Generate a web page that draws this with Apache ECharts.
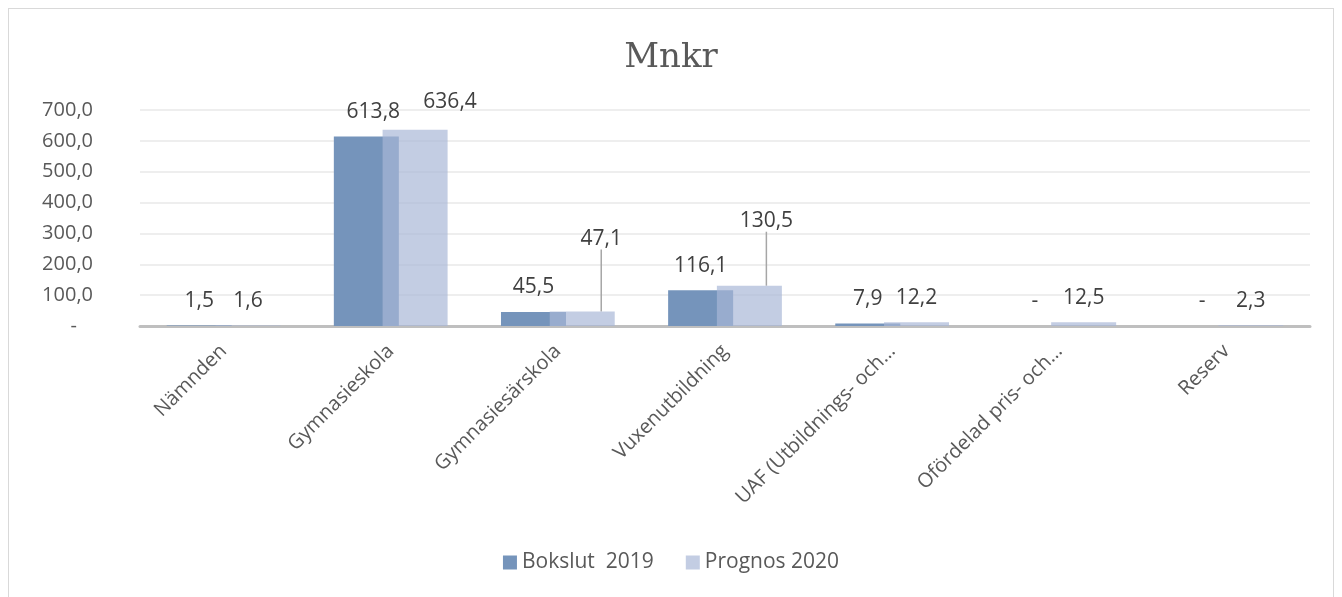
<!DOCTYPE html>
<html>
<head>
<meta charset="utf-8">
<script src="https://cdn.jsdelivr.net/npm/echarts@6/dist/echarts.min.js"></script>
<style>
  html, body { margin: 0; padding: 0; background: #fff; }
  #frame { position: absolute; left: 8px; top: 8px; width: 1324px; height: 620px; border: 1px solid #d9d9d9; }
  #main { position: absolute; left: 0; top: 0; width: 1342px; height: 597px; }
</style>
</head>
<body>
<div id="frame"></div>
<div id="main"></div>
<script>
// data
var categories = ['Nämnden', 'Gymnasieskola', 'Gymnasiesärskola', 'Vuxenutbildning',
    'UAF (Utbildnings- och…', 'Ofördelad pris- och…', 'Reserv'];
var bokslut2019 = [1.5, 613.8, 45.5, 116.1, 7.9, 0, 0];
var prognos2020 = [1.6, 636.4, 47.1, 130.5, 12.2, 12.5, 2.3];
var seriesNames = ['Bokslut  2019', 'Prognos 2020'];

var txtFont = 'Open Sans';

function fmt(v) {
    return v === 0 ? '-' : v.toFixed(1).replace('.', ',');
}

// a few labels are moved like in the original
var labelMoves = {
    '0-1': {dx: 7, dy: 0},
    '1-1': {dx: 35, dy: -3},
    '1-2': {dx: 19, dy: -48, line: true},
    '1-3': {dx: 17, dy: -40, line: true}
};

var dom = document.getElementById('main');
var myChart = echarts.init(dom);

function buildData(values, s) {
    return values.map(function (v, i) {
        var m = labelMoves[s + '-' + i];
        var item = {value: v};
        if (m && m.line) {
            item.labelLine = {show: true, lineStyle: {color: '#a6a6a6', width: 1.5}};
        }
        return item;
    });
}

var option = {
    title: {
        text: 'Mnkr',
        left: 'center',
        top: 36,
        textStyle: {
            fontFamily: 'DejaVu Serif',
            fontWeight: 'normal',
            fontSize: 34,
            color: '#595959'
        }
    },
    color: ['#7594bb', 'rgba(168,183,214,0.69)'],
    legend: {
        bottom: 19,
        left: 'center',
        itemWidth: 14,
        itemHeight: 14,
        itemGap: 32,
        icon: 'rect',
        textStyle: {fontSize: 21, color: '#595959', fontFamily: txtFont},
        data: seriesNames
    },
    grid: {
        left: 140,
        right: 32,
        top: 110,
        bottom: 271
    },
    xAxis: {
        type: 'category',
        data: categories,
        axisLine: {lineStyle: {color: '#bfbfbf', width: 3}},
        axisTick: {show: false},
        axisLabel: {
            rotate: 45,
            interval: 0,
            margin: 22,
            fontSize: 20,
            color: '#595959',
            fontFamily: txtFont
        }
    },
    yAxis: {
        type: 'value',
        min: 0,
        max: 700,
        interval: 100,
        axisLine: {show: false},
        axisTick: {show: false},
        splitLine: {lineStyle: {color: '#e9e9e9', width: 1.5}},
        axisLabel: {
            margin: 47,
            fontSize: 20,
            color: '#595959',
            fontFamily: txtFont,
            formatter: function (v) {
                return v === 0 ? '{d|-}' : fmt(v);
            },
            rich: {d: {padding: [0, 16, 0, 0], fontSize: 20, color: '#595959', fontFamily: txtFont}}
        }
    },
    series: [0, 1].map(function (s) {
        return {
            name: seriesNames[s],
            type: 'bar',
            barWidth: 65,
            barGap: '-25%',
            data: buildData(s === 0 ? bokslut2019 : prognos2020, s),
            label: {
                show: true,
                position: 'top',
                distance: 14,
                fontSize: 21,
                color: '#404040',
                fontFamily: txtFont,
                formatter: function (p) { return fmt(p.value); }
            },
            labelLayout: function (p) {
                var m = labelMoves[s + '-' + p.dataIndex];
                if (!m) return {};
                return {dx: m.dx, dy: m.dy};
            }
        };
    })
};

myChart.setOption(option);
</script>
</body>
</html>
